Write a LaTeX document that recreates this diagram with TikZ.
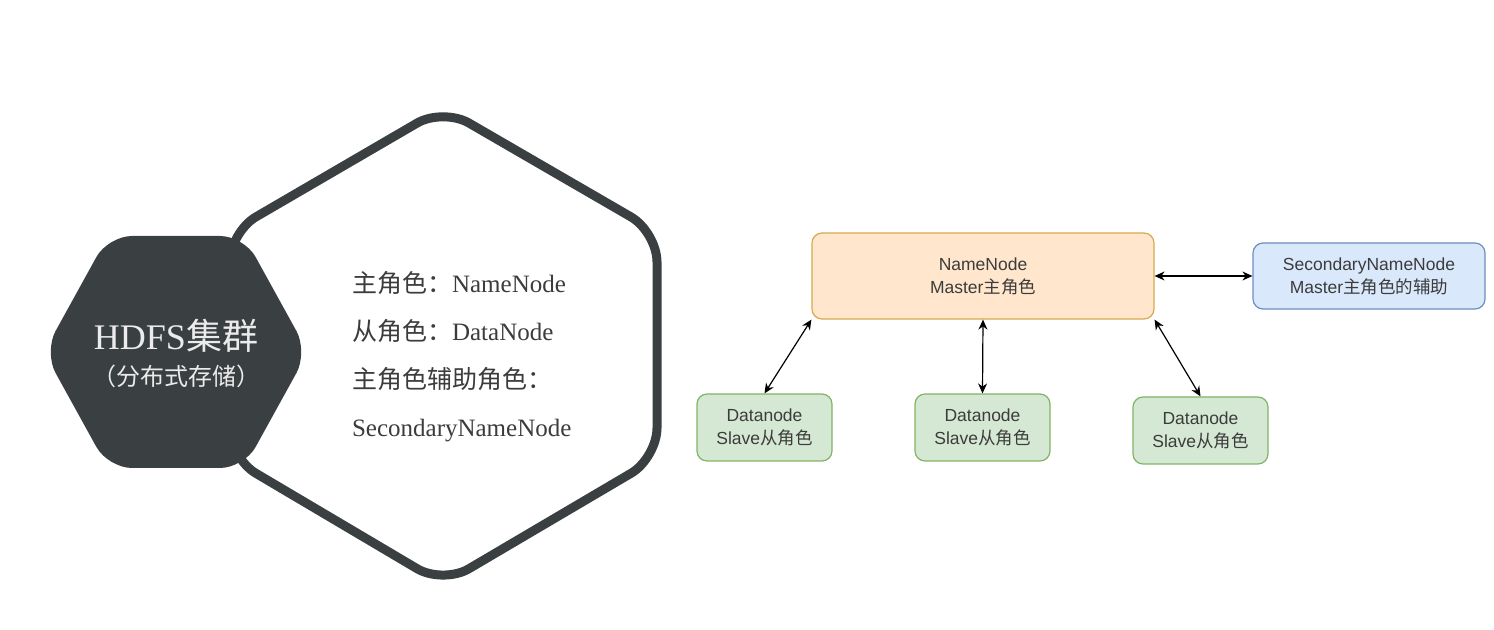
\documentclass[tikz,border=0pt]{standalone}
\usepackage{fontspec}
\setmainfont{Liberation Serif}
\setsansfont{Liberation Sans}
\newfontfamily\cjk{Noto Sans CJK SC}
\usetikzlibrary{arrows.meta}
\definecolor{hexgray}{HTML}{3A3F41}
\definecolor{textgray}{HTML}{3C3C3C}
\definecolor{nnfill}{HTML}{FFE6CC}
\definecolor{nndraw}{HTML}{D6A94F}
\definecolor{snnfill}{HTML}{DAE8FC}
\definecolor{snndraw}{HTML}{6C8EBF}
\definecolor{dnfill}{HTML}{D5E8D4}
\definecolor{dndraw}{HTML}{82B366}

\begin{document}
\begin{tikzpicture}[x=0.5pt,y=-0.5pt]
    \useasboundingbox (0,0) rectangle (1494,630);

    \tikzset{boxstyle/.style={draw,rounded corners=5pt,line width=0.6pt,align=center,
        text=textgray,font=\sffamily\fontsize{8.75}{11.5}\selectfont}}

    % outline hexagon
    \draw[hexgray,line width=4.5pt,rounded corners=15pt] (657,345) -- (657,458) -- (443,584)
        -- (230,458) -- (230,232) -- (443,108) -- (657,232) -- cycle;
    % filled hexagon
    \fill[hexgray,rounded corners=12pt] (176,236) -- (244,236) -- (308,352) -- (244,468)
        -- (108,468) -- (44,352) -- (108,236) -- cycle;

    \node[text=white!92!black,font=\fontsize{18}{22}\selectfont] (hdfs) at (176,336) {HDFS{\cjk 集群}};
    \node[text=white!92!black,font=\cjk\fontsize{12}{14}\selectfont] (store) at (176,376) {（分布式存储）};

    \node[anchor=west,align=left,text=textgray,font=\fontsize{12.5}{24}\selectfont] (roles) at (345,357)
        {{\cjk 主角色：}NameNode\\{\cjk 从角色：}DataNode\\{\cjk 主角色辅助角色：}\\SecondaryNameNode};

    \node[boxstyle,fill=nnfill,draw=nndraw,minimum width=171pt,minimum height=43pt] (nn) at (983,276)
        {NameNode\\Master{\cjk 主角色}};
    \node[boxstyle,fill=snnfill,draw=snndraw,minimum width=116pt,minimum height=33pt] (snn) at (1369,276)
        {SecondaryNameNode\\Master{\cjk 主角色的辅助}};
    \node[boxstyle,fill=dnfill,draw=dndraw,minimum width=67.5pt,minimum height=33.5pt] (dn1) at (764.5,427.5)
        {Datanode\\Slave{\cjk 从角色}};
    \node[boxstyle,fill=dnfill,draw=dndraw,minimum width=67.5pt,minimum height=33.5pt] (dn2) at (982.5,427.5)
        {Datanode\\Slave{\cjk 从角色}};
    \node[boxstyle,fill=dnfill,draw=dndraw,minimum width=67.5pt,minimum height=33.5pt] (dn3) at (1200.5,430.5)
        {Datanode\\Slave{\cjk 从角色}};

    \begin{scope}[every path/.style={<->,>={Stealth[length=5pt,width=4.5pt]},line width=0.6pt}]
        \draw (nn.south west) -- (dn1.north);
        \draw (nn.south) -- (dn2.north);
        \draw (nn.south east) -- (dn3.north);
        \draw (nn.east) -- (snn.west);
    \end{scope}
\end{tikzpicture}
\end{document}
